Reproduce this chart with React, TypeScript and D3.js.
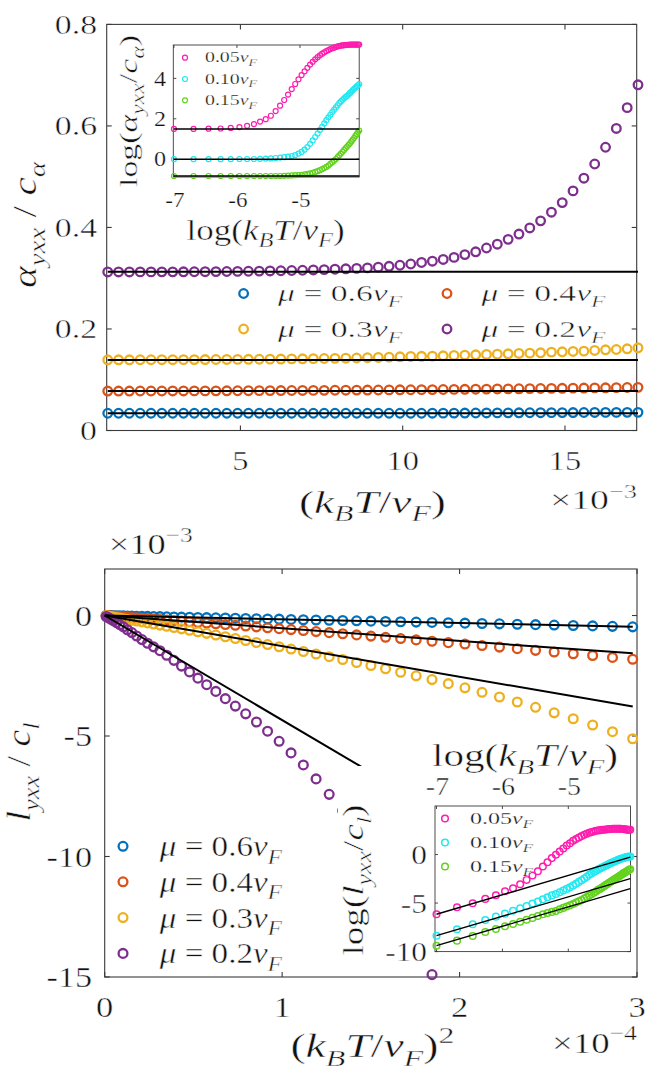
import React from 'react';
import * as d3 from 'd3';

// k_B T / v_F  (x 1e-3)
const TEMP = [0.912, 1.245, 1.579, 1.912, 2.246, 2.579, 2.913, 3.246, 3.579, 3.913, 4.246, 4.58, 4.913, 5.247, 5.58, 5.913, 6.247, 6.58, 6.914, 7.247, 7.581, 7.914, 8.247, 8.581, 8.914, 9.248, 9.581, 9.915, 10.248, 10.581, 10.915, 11.248, 11.582, 11.915, 12.249, 12.582, 12.915, 13.249, 13.582, 13.916, 14.249, 14.583, 14.916, 15.249, 15.583, 15.916, 16.25, 16.583, 16.917, 17.25];

// top panel: alpha_yxx / c_alpha
const ALPHA_MU06 = [0.034, 0.034, 0.034, 0.034, 0.034, 0.034, 0.034, 0.034, 0.034, 0.034, 0.034, 0.034, 0.034, 0.034, 0.034, 0.034, 0.034, 0.034, 0.034, 0.034, 0.034, 0.034, 0.034, 0.034, 0.034, 0.034, 0.034, 0.034, 0.034, 0.034, 0.0341, 0.0342, 0.0343, 0.0344, 0.0345, 0.0346, 0.0347, 0.0348, 0.0349, 0.035, 0.0351, 0.0352, 0.0353, 0.0354, 0.0355, 0.0356, 0.0357, 0.0357, 0.0358, 0.0358];
const ALPHA_MU04 = [0.0777, 0.0777, 0.0777, 0.0778, 0.0778, 0.0778, 0.0779, 0.0779, 0.078, 0.078, 0.0781, 0.0782, 0.0783, 0.0784, 0.0785, 0.0786, 0.0787, 0.0788, 0.0789, 0.079, 0.0791, 0.0793, 0.0794, 0.0796, 0.0797, 0.0798, 0.08, 0.0802, 0.0803, 0.0805, 0.0806, 0.0808, 0.081, 0.0812, 0.0814, 0.0816, 0.0818, 0.082, 0.0822, 0.0824, 0.0827, 0.0829, 0.0831, 0.0834, 0.0836, 0.0839, 0.0841, 0.0844, 0.0847, 0.085];
const ALPHA_MU03 = [0.1393, 0.1393, 0.1393, 0.1394, 0.1394, 0.1395, 0.1395, 0.1396, 0.1397, 0.1398, 0.1399, 0.14, 0.1401, 0.1403, 0.1404, 0.1406, 0.1408, 0.141, 0.1412, 0.1415, 0.1418, 0.1421, 0.1424, 0.1428, 0.1433, 0.1439, 0.1445, 0.1452, 0.1459, 0.1462, 0.1465, 0.1472, 0.1478, 0.1485, 0.1491, 0.1498, 0.1504, 0.1511, 0.1518, 0.1524, 0.1531, 0.1544, 0.155, 0.1557, 0.1563, 0.1577, 0.159, 0.1596, 0.1609, 0.1629];
const ALPHA_MU02 = [0.3123, 0.3123, 0.3123, 0.3124, 0.3124, 0.3125, 0.3125, 0.3126, 0.3127, 0.3128, 0.313, 0.3132, 0.3134, 0.3137, 0.314, 0.3143, 0.3147, 0.3152, 0.3157, 0.3163, 0.317, 0.3177, 0.3185, 0.3193, 0.3203, 0.3218, 0.3235, 0.3255, 0.328, 0.331, 0.3335, 0.337, 0.341, 0.3465, 0.352, 0.3595, 0.367, 0.3766, 0.387, 0.399, 0.413, 0.43, 0.449, 0.472, 0.497, 0.525, 0.558, 0.595, 0.636, 0.681];
const ALPHA_FIT = [0.034, 0.0777, 0.1388, 0.3127];

// top inset: log(alpha_yxx / c_alpha)
const LOG_ALPHA_005 = [1.5, 1.5, 1.51, 1.52, 1.55, 1.59, 1.65, 1.74, 1.86, 1.98, 2.15, 2.38, 2.65, 2.93, 3.2, 3.47, 3.72, 3.95, 4.16, 4.35, 4.52, 4.68, 4.82, 4.94, 5.05, 5.14, 5.22, 5.29, 5.35, 5.4, 5.45, 5.49, 5.52, 5.55, 5.58, 5.6, 5.62, 5.63, 5.64, 5.65, 5.66, 5.66, 5.67, 5.67, 5.67, 5.67, 5.67, 5.67, 5.67, 5.67];
const LOG_ALPHA_010 = [0, 0, 0, 0, 0, 0.01, 0.01, 0.01, 0.02, 0.03, 0.04, 0.06, 0.08, 0.1, 0.13, 0.16, 0.2, 0.28, 0.36, 0.47, 0.6, 0.76, 0.93, 1.1, 1.27, 1.45, 1.6, 1.77, 1.93, 2.07, 2.2, 2.33, 2.45, 2.56, 2.67, 2.78, 2.86, 2.94, 3.01, 3.08, 3.14, 3.21, 3.28, 3.35, 3.42, 3.48, 3.54, 3.6, 3.66, 3.72];
const LOG_ALPHA_015 = [-0.83, -0.83, -0.83, -0.83, -0.83, -0.83, -0.83, -0.83, -0.83, -0.83, -0.83, -0.83, -0.83, -0.82, -0.81, -0.8, -0.79, -0.78, -0.77, -0.75, -0.73, -0.7, -0.67, -0.63, -0.59, -0.54, -0.49, -0.44, -0.38, -0.31, -0.23, -0.15, -0.07, 0.01, 0.1, 0.19, 0.28, 0.37, 0.46, 0.55, 0.63, 0.71, 0.79, 0.88, 0.97, 1.06, 1.15, 1.24, 1.33, 1.42];
const LOG_ALPHA_FIT = [1.5, 0.0, -0.83];

// bottom panel: l_yxx / c_l  (x 1e-3)
const L_MU06 = [-0.001, -0.002, -0.004, -0.006, -0.008, -0.01, -0.013, -0.016, -0.02, -0.024, -0.028, -0.033, -0.037, -0.043, -0.048, -0.054, -0.06, -0.067, -0.074, -0.081, -0.089, -0.097, -0.105, -0.114, -0.123, -0.133, -0.142, -0.152, -0.163, -0.174, -0.185, -0.196, -0.208, -0.22, -0.233, -0.246, -0.259, -0.273, -0.287, -0.301, -0.316, -0.331, -0.347, -0.363, -0.379, -0.396, -0.413, -0.431, -0.449, -0.47];
const L_MU04 = [-0.004, -0.008, -0.013, -0.019, -0.027, -0.035, -0.045, -0.056, -0.068, -0.081, -0.096, -0.112, -0.129, -0.147, -0.167, -0.188, -0.21, -0.233, -0.258, -0.285, -0.312, -0.341, -0.371, -0.403, -0.436, -0.471, -0.507, -0.545, -0.584, -0.625, -0.668, -0.712, -0.757, -0.805, -0.854, -0.905, -0.957, -1.011, -1.068, -1.126, -1.185, -1.247, -1.311, -1.377, -1.445, -1.515, -1.587, -1.661, -1.738, -1.816];
const L_MU03 = [-0.011, -0.02, -0.032, -0.046, -0.064, -0.084, -0.108, -0.134, -0.163, -0.195, -0.229, -0.267, -0.307, -0.351, -0.397, -0.446, -0.499, -0.554, -0.613, -0.674, -0.74, -0.808, -0.88, -0.955, -1.035, -1.118, -1.205, -1.297, -1.392, -1.493, -1.599, -1.709, -1.826, -1.948, -2.076, -2.211, -2.353, -2.503, -2.66, -2.827, -3.002, -3.187, -3.383, -3.589, -3.809, -4.04, -4.285, -4.545, -4.821, -5.112];
const L_MU02 = [-0.04, -0.07, -0.11, -0.16, -0.22, -0.29, -0.38, -0.47, -0.59, -0.71, -0.85, -1.0, -1.15, -1.3, -1.46, -1.65, -1.86, -2.1, -2.34, -2.6, -2.87, -3.15, -3.45, -3.76, -4.08, -4.42, -4.8, -5.22, -5.7, -6.2, -6.78, -7.42, -8.1, -8.87, -9.72, -10.67, -11.72, -12.9, -14.9];
const L_FIT_SLOPE = [-0.156, -0.527, -1.27, -4.34];
const L_FIT_END = [2.976, 2.976, 2.976, 1.45];

// bottom inset: log(l_yxx / c_l)
const LOG_L_005 = [-6.15, -5.43, -5.02, -4.57, -4.19, -3.78, -3.47, -3.06, -2.61, -2.16, -1.72, -1.24, -0.79, -0.37, -0.03, 0.31, 0.62, 0.93, 1.17, 1.41, 1.59, 1.76, 1.9, 2.03, 2.14, 2.24, 2.31, 2.38, 2.45, 2.48, 2.51, 2.55, 2.56, 2.58, 2.6, 2.62, 2.63, 2.65, 2.65, 2.65, 2.65, 2.65, 2.65, 2.63, 2.62, 2.6, 2.58, 2.56, 2.55, 2.55];
const LOG_L_010 = [-8.36, -7.7, -7.19, -6.74, -6.4, -6.09, -5.79, -5.55, -5.31, -5.05, -4.85, -4.61, -4.4, -4.21, -4.06, -3.88, -3.71, -3.54, -3.37, -3.2, -3.02, -2.82, -2.65, -2.47, -2.3, -2.09, -1.96, -1.79, -1.69, -1.55, -1.44, -1.34, -1.24, -1.13, -1.06, -0.96, -0.86, -0.79, -0.72, -0.65, -0.58, -0.51, -0.44, -0.41, -0.36, -0.31, -0.27, -0.24, -0.22, -0.2];
const LOG_L_015 = [-9.39, -8.87, -8.39, -7.98, -7.67, -7.39, -7.15, -6.93, -6.72, -6.53, -6.33, -6.15, -6.02, -5.91, -5.81, -5.64, -5.5, -5.36, -5.22, -5.09, -4.95, -4.81, -4.68, -4.54, -4.37, -4.23, -4.09, -3.95, -3.82, -3.64, -3.54, -3.4, -3.26, -3.13, -3.02, -2.89, -2.78, -2.65, -2.54, -2.44, -2.34, -2.23, -2.13, -2.03, -1.92, -1.86, -1.75, -1.69, -1.58, -1.51];
const LOG_L_FIT_START = [-6.15, -8.36, -9.39];
const LOG_L_FIT_SLOPE = 2;

const MU_LABELS = ['0.6', '0.4', '0.3', '0.2'];
const INSET_LABELS = ['0.05', '0.10', '0.15'];
const COLORS = ['#0072BD', '#D95319', '#EDB120', '#7E2F8E'];
const INSET_COLORS = ['#FF1CAE', '#22E8F0', '#62D21E'];

const TOP_XTICKS = [5, 10, 15];
const TOP_YTICKS = [0, 0.2, 0.4, 0.6, 0.8];
const TOP_YTICK_LABELS = ['0', '0.2', '0.4', '0.6', '0.8'];
const TI_XTICKS = [-7, -6, -5];
const TI_YTICKS = [0, 2, 4];
const BOT_XTICKS = [0, 1, 2, 3];
const BOT_YTICKS = [0, -5, -10, -15];
const BI_XTICKS = [-7, -6, -5];
const BI_YTICKS = [0, -5, -10];

const FONT = "'Liberation Serif','Times New Roman',serif";
const INK = '#111';
const AX = '#3a3a3a';

type Part = { t: string; i?: boolean; sub?: boolean; sup?: boolean };
const P = (t: string): Part => ({ t });
const I = (t: string): Part => ({ t, i: true });
const S = (t: string): Part => ({ t, i: true, sub: true });
const SUP = (t: string): Part => ({ t, sup: true });

function MathText({ x, y, size, parts, anchor = 'start', rot = 0, sx = 1, len }: any) {
  let cur = 0;
  const spans = parts.map((p: Part, k: number) => {
    const target = p.sub ? size * 0.25 : p.sup ? -size * 0.42 : 0;
    const dy = target - cur;
    cur = target;
    return (
      <tspan key={k} dy={dy !== 0 ? dy : undefined} fontStyle={p.i ? 'italic' : 'normal'} fontSize={p.sub || p.sup ? size * 0.7 : size}>
        {p.t}
      </tspan>
    );
  });
  const thin = size >= 24 ? 0.45 : 0.25;
  return (
    <g transform={`translate(${x},${y}) rotate(${rot}) scale(${sx},1)`}>
      <text
        fontFamily={FONT}
        fontSize={size}
        textAnchor={anchor}
        textLength={len}
        lengthAdjust={len ? 'spacingAndGlyphs' : undefined}
        fill={INK}
        stroke="#fff"
        strokeWidth={thin}
        style={{ whiteSpace: 'pre' }}
      >
        {spans}
      </text>
    </g>
  );
}

function Label({ x, y, size, text, anchor = 'middle', sx = 1 }: any) {
  const thin = size >= 24 ? 0.45 : 0.25;
  return (
    <g transform={`translate(${x},${y}) scale(${sx},1)`}>
      <text fontFamily={FONT} fontSize={size} textAnchor={anchor} fill={INK} stroke="#fff" strokeWidth={thin}>
        {text}
      </text>
    </g>
  );
}

function Frame({ x0, x1, y0, y1, xt, yt, tl, sw = 1.1, bg = false }: any) {
  return (
    <g stroke={AX} strokeWidth={sw} fill="none">
      {bg && <rect x={x0} y={y0} width={x1 - x0} height={y1 - y0} fill="#fff" stroke="none" />}
      {xt.map((px: number, k: number) => (
        <g key={'x' + k}>
          <line x1={px} x2={px} y1={y1} y2={y1 - tl} />
          <line x1={px} x2={px} y1={y0} y2={y0 + tl} />
        </g>
      ))}
      {yt.map((py: number, k: number) => (
        <g key={'y' + k}>
          <line x1={x0} x2={x0 + tl} y1={py} y2={py} />
          <line x1={x1} x2={x1 - tl} y1={py} y2={py} />
        </g>
      ))}
      <rect x={x0} y={y0} width={x1 - x0} height={y1 - y0} />
    </g>
  );
}

function Markers({ xs, ys, sx, sy, color, r, sw }: any) {
  return (
    <g fill="none" stroke={color} strokeWidth={sw}>
      {ys.map((v: number, i: number) => (
        <circle key={i} cx={sx(xs[i])} cy={sy(v)} r={r} />
      ))}
    </g>
  );
}

export default function App() {
  // scales
  const topX = d3.scaleLinear().domain([0.88, 17.21]).range([106.7, 636.7]);
  const topY = d3.scaleLinear().domain([0, 0.8]).range([430.5, 24.4]);
  const tiX = d3.scaleLinear().domain([-7.01, -4.06]).range([173.3, 359.2]);
  const tiY = d3.scaleLinear().domain([-0.88, 5.65]).range([177, 45]);
  const botX = d3.scaleLinear().domain([0, 3]).range([104.7, 637]);
  const botY = d3.scaleLinear().domain([-15, 1.93]).range([977, 569]);
  const biX = d3.scaleLinear().domain([-7.023, -4.056]).range([435, 630.5]);
  const biY = d3.scaleLinear().domain([-10, 5]).range([951.6, 806]);

  const logT = TEMP.map((t) => Math.log(t * 1e-3));
  const tSq = TEMP.map((t) => (t * t) / 100); // (k_B T/v_F)^2 in 1e-4

  const line = d3.line<[number, number]>();

  const topSeries = [ALPHA_MU06, ALPHA_MU04, ALPHA_MU03, ALPHA_MU02];
  const tiSeries = [LOG_ALPHA_005, LOG_ALPHA_010, LOG_ALPHA_015];
  const botSeries = [L_MU06, L_MU04, L_MU03, L_MU02];
  const biSeries = [LOG_L_005, LOG_L_010, LOG_L_015];

  const kT = [P('('), I('k'), S('B'), I('T'), P('/'), I('v'), S('F'), P(')')];
  const logkT = [P('log('), I('k'), S('B'), I('T'), P('/'), I('v'), S('F'), P(')')];

  const topLegendPos = [
    [243.6, 293.5],
    [447, 293.5],
    [243.6, 329],
    [447, 329],
  ];
  const botLegendPos = [846.3, 881.8, 917.6, 953.4];
  const tiLegendPos = [57.7, 79, 100.3];
  const biLegendPos = [818.5, 842.5, 866.5];

  return (
    <svg width={650} height={1075} style={{ position: 'absolute', left: 0, top: 0, background: '#fff' }}>
      <rect x={0} y={0} width={650} height={1075} fill="#fff" />

      {/* ================= TOP PANEL ================= */}
      <Frame x0={106.7} x1={636.7} y0={24.4} y1={430.5} xt={TOP_XTICKS.map(topX)} yt={TOP_YTICKS.map(topY)} tl={5} />
      {topSeries.map((s, k) => (
        <Markers key={k} xs={TEMP} ys={s} sx={topX} sy={topY} color={COLORS[k]} r={4.3} sw={2.3} />
      ))}
      {ALPHA_FIT.map((v, k) => (
        <path
          key={k}
          d={line([
            [topX(TEMP[0]), topY(v)],
            [topX(TEMP[TEMP.length - 1]), topY(v)],
          ]) as string}
          stroke="#000"
          strokeWidth={2}
          fill="none"
        />
      ))}
      {TOP_YTICKS.map((v, k) => (
        <Label key={k} x={97} y={topY(v) + 9.2} size={27} text={TOP_YTICK_LABELS[k]} anchor="end" sx={1.25} />
      ))}
      {TOP_XTICKS.map((v, k) => (
        <Label key={k} x={topX(v)} y={469.5} size={27} text={String(v)} sx={1.2} />
      ))}
      <MathText x={372.4} y={512.7} size={32} parts={kT} anchor="middle" len={147} />
      <MathText x={550} y={509.3} size={28} parts={[P('×10'), SUP('−3')]} len={87} />
      <MathText x={36} y={225} size={34} rot={-90} parts={[I('α'), S('yxx'), P(' / '), I('c'), S('α')]} anchor="middle" len={126} />

      {/* top legend */}
      {topLegendPos.map(([lx, ly], k) => (
        <g key={k}>
          <circle cx={lx} cy={ly} r={4.3} fill="none" stroke={COLORS[k]} strokeWidth={2.3} />
          <MathText x={lx + 34.5} y={ly + 7.5} size={24} parts={[I('μ'), P(' = '), P(MU_LABELS[k]), I('v'), S('F')]} len={124} />
        </g>
      ))}

      {/* top inset */}
      <Frame x0={173.3} x1={359.2} y0={45} y1={177} xt={TI_XTICKS.map(tiX)} yt={TI_YTICKS.map(tiY)} tl={3} sw={0.9} bg />
      {tiSeries.map((s, k) => (
        <Markers key={k} xs={logT} ys={s} sx={tiX} sy={tiY} color={INSET_COLORS[k]} r={2.5} sw={1.2} />
      ))}
      {LOG_ALPHA_FIT.map((v, k) => (
        <path
          key={k}
          d={line([
            [tiX(logT[0]), tiY(v)],
            [tiX(logT[logT.length - 1]), tiY(v)],
          ]) as string}
          stroke="#000"
          strokeWidth={1.5}
          fill="none"
        />
      ))}
      {INSET_LABELS.map((lab, k) => (
        <g key={k}>
          <circle cx={185} cy={tiLegendPos[k]} r={2.5} fill="none" stroke={INSET_COLORS[k]} strokeWidth={1.2} />
          <MathText x={205} y={tiLegendPos[k] + 4.5} size={15.5} parts={[P(lab), I('v'), S('F')]} len={52} />
        </g>
      ))}
      {TI_YTICKS.map((v, k) => (
        <Label key={k} x={166} y={tiY(v) + 7.2} size={21} text={String(v)} anchor="end" sx={1.15} />
      ))}
      {TI_XTICKS.map((v, k) => (
        <Label key={k} x={tiX(v) + 1} y={206.7} size={21} text={String(v)} sx={1.1} />
      ))}
      <MathText x={265.6} y={240} size={29} parts={logkT} anchor="middle" len={158} />
      <MathText x={137} y={111} size={26} rot={-90} parts={[P('log('), I('α'), S('yxx'), P('/'), I('c'), S('α'), P(')')]} anchor="middle" len={152} />

      {/* ================= BOTTOM PANEL ================= */}
      <Frame x0={104.7} x1={637} y0={569} y1={977} xt={BOT_XTICKS.map(botX)} yt={BOT_YTICKS.map(botY)} tl={5} />
      {botSeries.map((s, k) => (
        <Markers key={k} xs={tSq} ys={s} sx={botX} sy={botY} color={COLORS[k]} r={4.4} sw={2.3} />
      ))}
      {L_FIT_SLOPE.map((m, k) => (
        <path
          key={k}
          d={line([
            [botX(0), botY(0)],
            [botX(L_FIT_END[k]), botY(m * L_FIT_END[k])],
          ]) as string}
          stroke="#000"
          strokeWidth={2}
          fill="none"
        />
      ))}
      {BOT_YTICKS.map((v, k) => (
        <Label key={k} x={92} y={botY(v) + 10} size={30} text={String(v)} anchor="end" sx={1.14} />
      ))}
      {BOT_XTICKS.map((v, k) => (
        <Label key={k} x={botX(v)} y={1016.5} size={30} text={String(v)} sx={1.15} />
      ))}
      <MathText x={372.4} y={1057} size={34} parts={[...kT, SUP('2')]} anchor="middle" len={164} />
      <MathText x={552} y={1053} size={30} parts={[P('×10'), SUP('−4')]} len={85} />
      <MathText x={108.7} y={554.3} size={30} parts={[P('×10'), SUP('−3')]} len={84} />
      <MathText x={30} y={772} size={34} rot={-90} parts={[I('l'), S('yxx'), P(' / '), I('c'), S('l')]} anchor="middle" len={99} />

      {/* bottom legend */}
      {MU_LABELS.map((lab, k) => (
        <g key={k}>
          <circle cx={123} cy={botLegendPos[k]} r={4.4} fill="none" stroke={COLORS[k]} strokeWidth={2.3} />
          <MathText x={159.8} y={botLegendPos[k] + 10} size={30} parts={[I('μ'), P(' = '), P(lab), I('v'), S('F')]} len={122} />
        </g>
      ))}

      {/* bottom inset (opaque image region) */}
      <rect x={338} y={766} width={296} height={198} fill="#fff" />
      <Frame x0={435} x1={630.5} y0={806} y1={951.6} xt={BI_XTICKS.map(biX)} yt={BI_YTICKS.map(biY)} tl={3} sw={0.9} bg />
      {biSeries.map((s, k) => (
        <Markers key={k} xs={logT} ys={s} sx={biX} sy={biY} color={INSET_COLORS[k]} r={3.3} sw={1.5} />
      ))}
      {LOG_L_FIT_START.map((v, k) => (
        <path
          key={k}
          d={line([
            [biX(logT[0]), biY(v)],
            [biX(logT[logT.length - 1]), biY(v + LOG_L_FIT_SLOPE * (logT[logT.length - 1] - logT[0]))],
          ]) as string}
          stroke="#000"
          strokeWidth={1.4}
          fill="none"
        />
      ))}
      {INSET_LABELS.map((lab, k) => (
        <g key={k}>
          <circle cx={445} cy={biLegendPos[k]} r={3.3} fill="none" stroke={INSET_COLORS[k]} strokeWidth={1.5} />
          <MathText x={470} y={biLegendPos[k] + 5.5} size={17.5} parts={[P(lab), I('v'), S('F')]} len={63} />
        </g>
      ))}
      {BI_YTICKS.map((v, k) => (
        <Label key={k} x={427} y={biY(v) + 9.5} size={28} text={String(v)} anchor="end" sx={1.12} />
      ))}
      {BI_XTICKS.map((v, k) => (
        <Label key={k} x={biX(v) + 1} y={795} size={25} text={String(v)} sx={1.12} />
      ))}
      <MathText x={525} y={766.4} size={31} parts={logkT} anchor="middle" len={186} />
      <MathText x={363.3} y={880} size={29} rot={-90} parts={[P('log('), I('l'), S('yxx'), P('/'), I('c'), S('l'), P(')')]} anchor="middle" len={151} />
    </svg>
  );
}
